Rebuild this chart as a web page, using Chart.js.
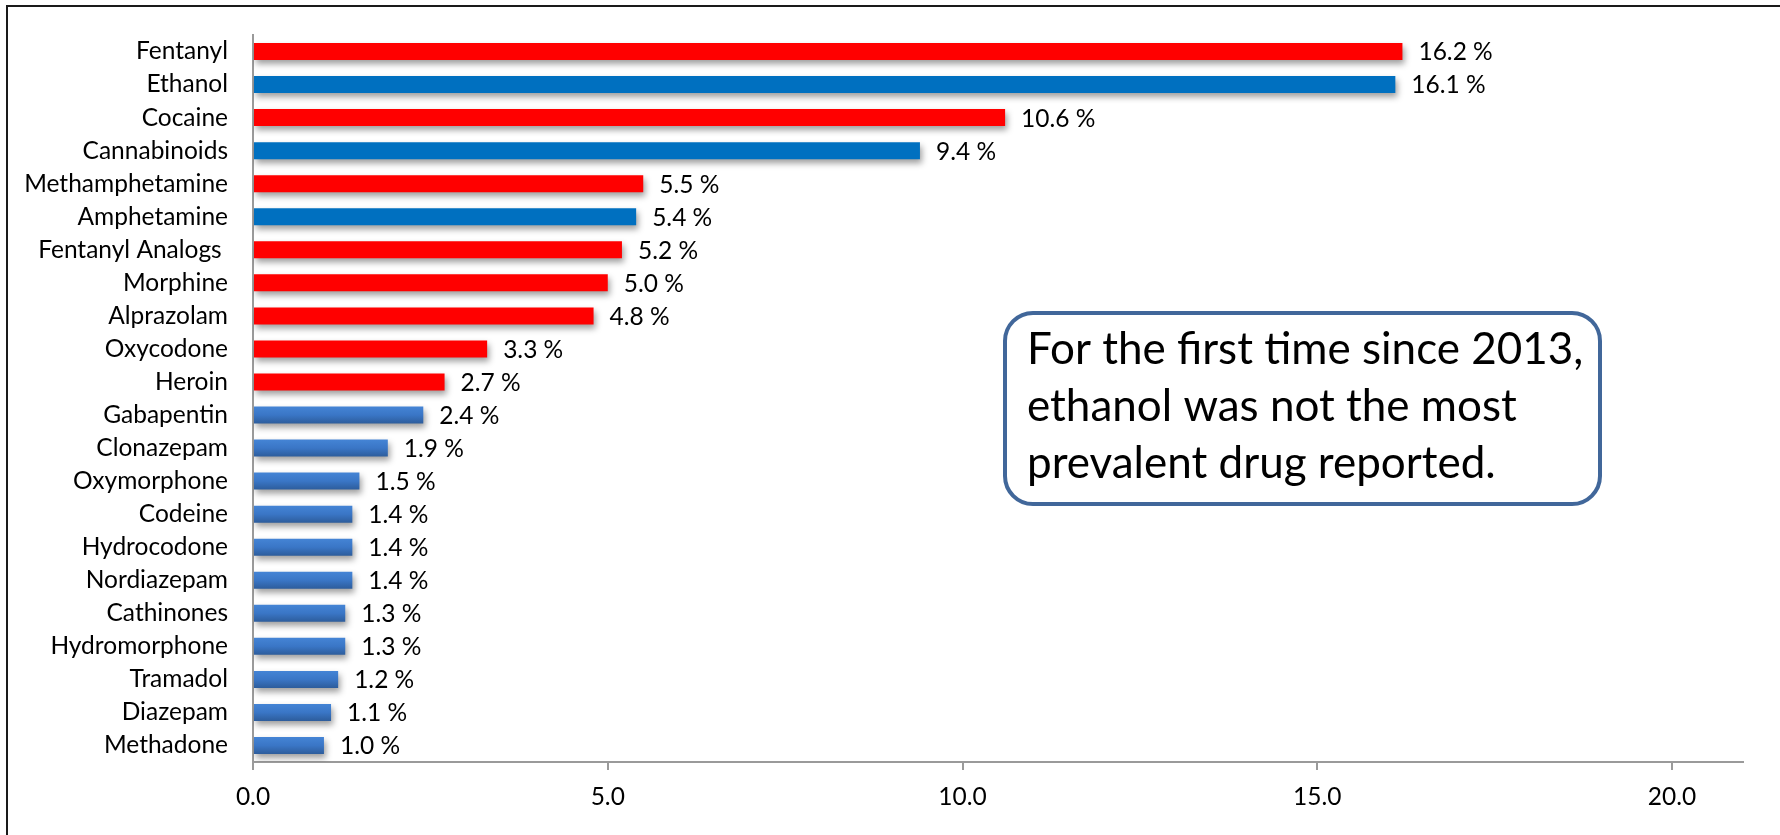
<!DOCTYPE html>
<html>
<head>
<meta charset="utf-8">
<title>Drugs reported</title>
<script src="https://cdn.jsdelivr.net/npm/chart.js@4.4.1/dist/chart.umd.min.js"></script>
<style>
  html, body { margin: 0; padding: 0; background: #fff; }
  #wrap { position: relative; width: 1780px; height: 835px; }
</style>
</head>
<body>
<div id="wrap"><canvas id="drugs" width="1780" height="835"></canvas></div>
<script>
// --- data ---
const drugs = [
  "Fentanyl", "Ethanol", "Cocaine", "Cannabinoids", "Methamphetamine",
  "Amphetamine", "Fentanyl Analogs ", "Morphine", "Alprazolam", "Oxycodone",
  "Heroin", "Gabapentin", "Clonazepam", "Oxymorphone", "Codeine",
  "Hydrocodone", "Nordiazepam", "Cathinones", "Hydromorphone", "Tramadol",
  "Diazepam", "Methadone"
];
const percents = [
  16.2, 16.1, 10.6, 9.4, 5.5,
  5.4, 5.2, 5.0, 4.8, 3.3,
  2.7, 2.4, 1.9, 1.5, 1.4,
  1.4, 1.4, 1.3, 1.3, 1.2,
  1.1, 1.0
];
// r = red highlight, b = solid blue, g = shaded blue
const groups = [
  "r", "b", "r", "b", "r",
  "b", "r", "r", "r", "r",
  "r", "g", "g", "g", "g",
  "g", "g", "g", "g", "g",
  "g", "g"
];
const xTicks = [0, 5, 10, 15, 20];
const noteLines = [
  "For the first time since 2013,",
  "ethanol was not the most",
  "prevalent drug reported."
];

const FONT = "Lato, 'Open Sans', sans-serif";

function barFill(ctx) {
  const g = groups[ctx.dataIndex];
  if (g === "r") return "#FF0000";
  if (g === "b") return "#0070C0";
  const chart = ctx.chart;
  const y = chart.scales.y;
  if (!y || !chart.chartArea) return "#3A74C0";
  const cy = y.getPixelForValue(ctx.dataIndex);
  const grad = chart.ctx.createLinearGradient(0, cy - 9, 0, cy + 9);
  grad.addColorStop(0, "#4585D6");
  grad.addColorStop(0.5, "#3A76C6");
  grad.addColorStop(1, "#2C5B99");
  return grad;
}

// frame lines round the figure
const framePlugin = {
  id: "frame",
  beforeDraw(chart) {
    const c = chart.ctx;
    c.save();
    c.fillStyle = "#fff";
    c.fillRect(0, 0, chart.width, chart.height);
    c.strokeStyle = "#1a1a1a";
    c.lineWidth = 2;
    c.beginPath();
    c.moveTo(7, chart.height);
    c.lineTo(7, 6);
    c.lineTo(chart.width, 6);
    c.stroke();
    c.restore();
  }
};

// soft drop shadow under the bars
const shadowPlugin = {
  id: "barShadow",
  beforeDatasetsDraw(chart) {
    const c = chart.ctx;
    c.save();
    c.shadowColor = "rgba(0,0,0,0.38)";
    c.shadowBlur = 6;
    c.shadowOffsetX = 2;
    c.shadowOffsetY = 4;
  },
  afterDatasetsDraw(chart) {
    chart.ctx.restore();
  }
};

// "16.2 %" style labels at the end of each bar
const valueLabels = {
  id: "valueLabels",
  afterDatasetsDraw(chart) {
    const c = chart.ctx;
    const meta = chart.getDatasetMeta(0);
    c.save();
    c.font = `24.5px ${FONT}`;
    c.fillStyle = "#000";
    c.textAlign = "left";
    c.textBaseline = "middle";
    meta.data.forEach((bar, i) => {
      c.fillText(percents[i].toFixed(1) + " %", bar.x + 16, bar.y + 1);
    });
    c.restore();
  }
};

// rounded call-out box
const notePlugin = {
  id: "note",
  afterDraw(chart) {
    const c = chart.ctx;
    const left = 1005, top = 313, w = 595, h = 191, r = 28;
    c.save();
    c.beginPath();
    c.roundRect(left, top, w, h, r);
    c.fillStyle = "#fff";
    c.fill();
    c.lineWidth = 4;
    c.strokeStyle = "#41679A";
    c.stroke();
    c.font = `44px ${FONT}`;
    c.fillStyle = "#000";
    c.textAlign = "left";
    c.textBaseline = "alphabetic";
    noteLines.forEach((line, i) => c.fillText(line, left + 22, 364 + i * 57));
    c.restore();
  }
};

new Chart(document.getElementById("drugs"), {
  type: "bar",
  data: {
    labels: drugs,
    datasets: [{
      data: percents,
      backgroundColor: barFill,
      borderWidth: 0,
      barPercentage: 0.515,
      categoryPercentage: 1
    }]
  },
  options: {
    indexAxis: "y",
    responsive: false,
    animation: false,
    devicePixelRatio: 1,
    layout: { padding: { top: 35, right: 37, left: 0, bottom: 0 } },
    plugins: { legend: { display: false }, tooltip: { enabled: false } },
    scales: {
      x: {
        min: 0,
        max: 21,
        afterBuildTicks(scale) { scale.ticks = xTicks.map(v => ({ value: v })); },
        afterFit(scale) { scale.height = 73; },
        border: { display: true, color: "#9a9a9a", width: 2 },
        grid: { drawOnChartArea: false, drawTicks: true, tickLength: 8, color: "#9a9a9a", lineWidth: 2 },
        ticks: {
          padding: 12,
          color: "#000",
          font: { family: FONT, size: 24.5 },
          maxRotation: 0,
          callback: v => Number(v).toFixed(1)
        }
      },
      y: {
        afterFit(scale) {
          scale.width = 253;
          // labels sit inside their bands, no extra room needed above/below
          scale.paddingTop = 0;
          scale.paddingBottom = 0;
        },
        border: { display: true, color: "#9a9a9a", width: 2 },
        grid: { display: false, drawTicks: false },
        ticks: {
          padding: 25,
          color: "#000",
          font: { family: FONT, size: 24.5 },
          autoSkip: false
        }
      }
    }
  },
  plugins: [framePlugin, shadowPlugin, valueLabels, notePlugin]
});
</script>
</body>
</html>
